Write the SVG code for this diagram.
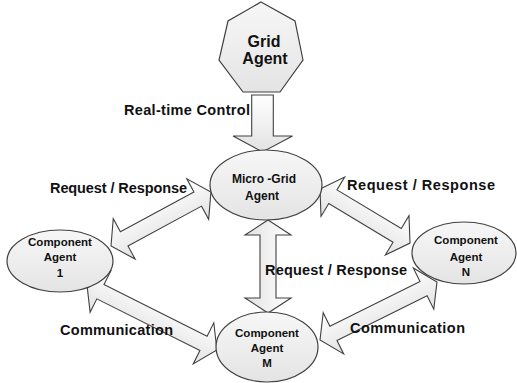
<svg xmlns="http://www.w3.org/2000/svg" width="517" height="383" viewBox="0 0 517 383">
<defs>
<linearGradient id="nodeFill" x1="0" y1="0" x2="0" y2="1">
<stop offset="0" stop-color="#f7f7f7"/>
<stop offset="1" stop-color="#e4e4e4"/>
</linearGradient>
<linearGradient id="arrowFill" x1="0" y1="0" x2="0" y2="1">
<stop offset="0" stop-color="#ffffff"/>
<stop offset="1" stop-color="#e2e2e2"/>
</linearGradient>
<style>
.node{fill:url(#nodeFill);stroke:#404040;stroke-width:1.2}
.arrow{fill:url(#arrowFill);stroke:#404040;stroke-width:1.1;stroke-linejoin:miter}
.nt{font-family:"Liberation Sans",Arial,sans-serif;font-weight:bold;fill:#111;text-anchor:middle}
.lbl{font-family:"Liberation Sans",Arial,sans-serif;font-weight:bold;font-size:14.5px;fill:#111}
</style>
</defs>
<rect width="517" height="383" fill="#ffffff"/>

<g id="connectors">
<path class="arrow" d="M251.7,95 L273.3,95 L273.3,136 L292.5,136 L262.5,152 L233,136 L251.7,136 Z"/>
<path class="arrow" transform="translate(111,246) rotate(-28.4)" d="M0,0 L15,-23 L15,-8 L98.6,-8 L98.6,-23 L113.6,0 L98.6,23 L98.6,8 L15,8 L15,23 Z"/>
<path class="arrow" transform="translate(320,189) rotate(31)" d="M0,0 L15,-23 L15,-8 L90,-8 L90,-23 L105,0 L90,23 L90,8 L15,8 L15,23 Z"/>
<path class="arrow" transform="translate(87,285) rotate(26.6)" d="M0,0 L15,-23 L15,-8 L130.3,-8 L130.3,-23 L145.3,0 L130.3,23 L130.3,8 L15,8 L15,23 Z"/>
<path class="arrow" transform="translate(320,340) rotate(-26.4)" d="M0,0 L15,-23 L15,-8 L115.6,-8 L115.6,-23 L130.6,0 L115.6,23 L115.6,8 L15,8 L15,23 Z"/>
<path class="arrow" transform="translate(268,220) rotate(90)" d="M0,0 L15,-23 L15,-8 L78,-8 L78,-23 L93,0 L78,23 L78,8 L15,8 L15,23 Z"/>
</g>

<g id="grid-agent">
<polygon class="node" points="261,2 295,21 303,60 280,92 243,92 219,60 228,21"/>
<text class="nt" x="264" y="47" font-size="16">Grid</text>
<text class="nt" x="265" y="64" font-size="16">Agent</text>
</g>

<g id="micro-grid-agent">
<ellipse class="node" cx="266" cy="185" rx="56" ry="35"/>
<text class="nt" x="264" y="183" font-size="12">Micro -Grid</text>
<text class="nt" x="262" y="200" font-size="12">Agent</text>
</g>

<g id="component-agent-1">
<ellipse class="node" cx="60" cy="261" rx="53" ry="31"/>
<text class="nt" x="60" y="246" font-size="11.5">Component</text>
<text class="nt" x="60" y="261" font-size="11.5">Agent</text>
<text class="nt" x="60" y="277" font-size="11.5">1</text>
</g>

<g id="component-agent-n">
<ellipse class="node" cx="464" cy="253" rx="52" ry="31"/>
<text class="nt" x="466" y="244" font-size="11.5">Component</text>
<text class="nt" x="466" y="261" font-size="11.5">Agent</text>
<text class="nt" x="466" y="276" font-size="11.5">N</text>
</g>

<g id="component-agent-m">
<ellipse class="node" cx="267" cy="347" rx="51" ry="35"/>
<text class="nt" x="267" y="337" font-size="11.5">Component</text>
<text class="nt" x="267" y="352" font-size="11.5">Agent</text>
<text class="nt" x="267" y="367" font-size="11.5">M</text>
</g>

<g id="labels">
<text class="lbl" x="124" y="115" textLength="126">Real-time Control</text>
<text class="lbl" x="50" y="193" textLength="137">Request / Response</text>
<text class="lbl" x="347" y="190" textLength="148">Request / Response</text>
<text class="lbl" x="265" y="275" textLength="142">Request / Response</text>
<text class="lbl" x="60" y="335" textLength="113">Communication</text>
<text class="lbl" x="350" y="333" textLength="115">Communication</text>
</g>
</svg>
